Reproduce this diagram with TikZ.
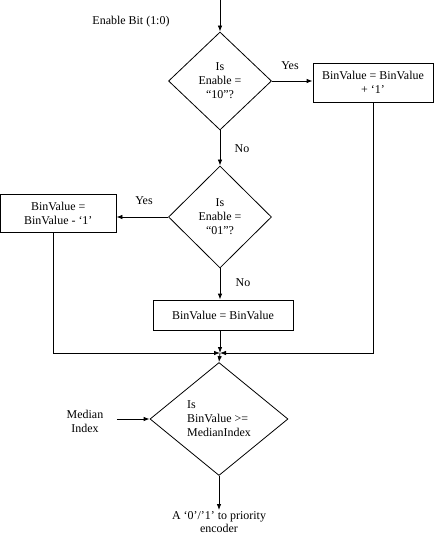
\documentclass[tikz,border=0pt]{standalone}
\usepackage{fontspec}
\setmainfont{Liberation Serif}
\usetikzlibrary{shapes.geometric,arrows.meta,positioning}

\tikzset{
  dec/.style={draw, diamond, inner sep=0pt, align=center, line width=0.8bp},
  blk/.style={draw, rectangle, inner sep=0pt, align=center, line width=0.8bp},
  arr/.style={-{Latex[length=6bp,width=4.5bp]}, line width=0.8bp},
  ln/.style={line width=0.8bp},
}

\begin{document}
\begin{tikzpicture}[x=1bp, y=-1bp, font=\fontsize{12}{14}\selectfont]
\useasboundingbox (0,0) rectangle (437,540);

% decisions
\node[dec, minimum width=103bp, minimum height=98bp] (d1) at (220,81) {Is\\Enable =\\“10”?};
\node[dec, minimum width=103bp, minimum height=102bp] (d2) at (220,217) {Is\\Enable =\\“01”?};
\node[dec, minimum width=138bp, minimum height=113bp, align=left] (d3) at (219,419) {Is\\BinValue >=\\MedianIndex};

% actions
\node[blk, minimum width=120bp, minimum height=39bp] (b1) at (373,82.5) {BinValue = BinValue\\+ ‘1’};
\node[blk, minimum width=115.5bp, minimum height=38bp] (b2) at (58.25,213) {BinValue =\\BinValue - ‘1’};
\node[blk, minimum width=140bp, minimum height=30bp] (b3) at (223,315) {BinValue = BinValue};

% labels
\node (en) at (131,22) {Enable Bit (1:0)};
\node[align=center] (median) at (85,421) {Median\\Index};
\node[anchor=north, align=center, inner sep=1bp, font=\fontsize{12}{13}\selectfont] (out) at (219,510) {A ‘0’/’1’ to priority\\encoder};
\node at (290,66) {Yes};
\node at (144,201) {Yes};
\node at (242,149) {No};
\node at (243,283) {No};

\coordinate (top) at (220,0);
\coordinate (m) at (220,353);

\draw[arr] (top) -- (d1.north);
\draw[arr] (d1.east) -- (d1.east -| b1.west);
\draw[arr] (d1.south) -- (d2.north);
\draw[arr] (d2.west) -- (d2.west -| b2.east);
\draw[arr] (d2.south) -- (d2.south |- b3.north);
\draw[arr] (b3.south -| m) -- (m);
\draw[arr] (b1.south) |- (m);
\draw[arr] ([xshift=-5bp]b2.south) |- (m);
\draw[arr] (m) -- (d3.north);
\draw[arr, shorten <=10bp] (median.east |- d3.west) -- (d3.west);
\draw[arr] (d3.south) -- (out.north);
\end{tikzpicture}
\end{document}
